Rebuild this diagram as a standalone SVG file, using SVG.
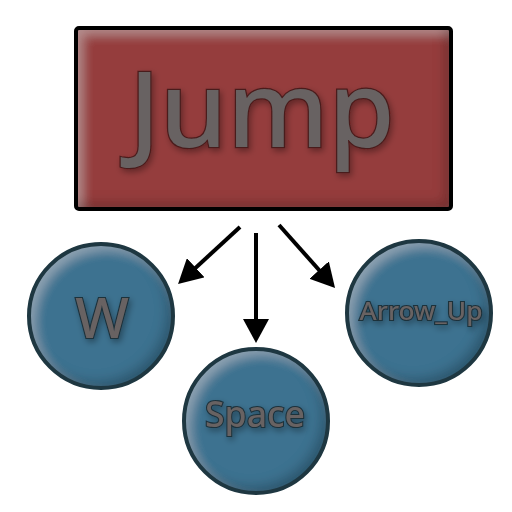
<svg xmlns="http://www.w3.org/2000/svg" width="512" height="512" viewBox="0 0 512 512">
  <defs>
    <style>
      .jump-fill { fill: #953d3d; }
      .jump-border { fill: none; stroke: #000; stroke-width: 4; }
      .key-fill { fill: #3e7290; }
      .key-border { fill: none; stroke: #1e3741; stroke-width: 4; }
      .label { font-family: "Noto Sans", "Open Sans", "DejaVu Sans", sans-serif; font-weight: 500; fill: #686262; text-anchor: middle; paint-order: stroke; }
      .label-jump { stroke: #4a1c1c; stroke-width: 2.5; font-size: 106px; }
      .label-key { stroke: #1c303a; stroke-width: 2.2; }
      .edge { stroke: #000; stroke-width: 4; fill: none; marker-end: url(#arrow); }
    </style>
    <marker id="arrow" viewBox="0 0 24 26" refX="14" refY="13" markerWidth="24" markerHeight="26" markerUnits="userSpaceOnUse" orient="auto">
      <path d="M0,0 L24,13 L0,26 z" fill="#000"/>
    </marker>
    <filter id="bevel" x="-20%" y="-20%" width="140%" height="140%">
      <feComponentTransfer in="SourceAlpha" result="inv">
        <feFuncA type="table" tableValues="1 0"/>
      </feComponentTransfer>
      <feOffset in="inv" dx="6" dy="6" result="invA"/>
      <feGaussianBlur in="invA" stdDeviation="6" result="blurA"/>
      <feFlood flood-color="#ffffff" flood-opacity="0.25"/>
      <feComposite in2="blurA" operator="in"/>
      <feComposite in2="SourceAlpha" operator="in" result="hl"/>
      <feOffset in="inv" dx="-6" dy="-6" result="invB"/>
      <feGaussianBlur in="invB" stdDeviation="6" result="blurB"/>
      <feFlood flood-color="#000000" flood-opacity="0.45"/>
      <feComposite in2="blurB" operator="in"/>
      <feComposite in2="SourceAlpha" operator="in" result="sh"/>
      <feMerge>
        <feMergeNode in="SourceGraphic"/>
        <feMergeNode in="hl"/>
        <feMergeNode in="sh"/>
      </feMerge>
    </filter>
    <filter id="tshadow" x="-20%" y="-20%" width="140%" height="140%">
      <feGaussianBlur in="SourceAlpha" stdDeviation="3" result="b"/>
      <feOffset in="b" dx="2" dy="3" result="o"/>
      <feFlood flood-color="#000" flood-opacity="0.35"/>
      <feComposite in2="o" operator="in" result="s"/>
      <feMerge>
        <feMergeNode in="s"/>
        <feMergeNode in="SourceGraphic"/>
      </feMerge>
    </filter>
  </defs>

  <g id="connectors">
    <line class="edge" x1="240" y1="227" x2="185.4" y2="277.2"/>
    <line class="edge" x1="256" y1="233" x2="256" y2="333"/>
    <line class="edge" x1="279" y1="225" x2="328.4" y2="280.5"/>
  </g>

  <g id="node-jump">
    <rect class="jump-fill" x="76" y="28" width="375" height="181" filter="url(#bevel)"/>
    <rect class="jump-border" x="76" y="28" width="375" height="181" rx="3"/>
    <text class="label label-jump" x="262" y="147" textLength="266" lengthAdjust="spacingAndGlyphs" filter="url(#tshadow)">Jump</text>
  </g>

  <g id="node-w">
    <circle class="key-fill" cx="101" cy="316" r="72" filter="url(#bevel)"/>
    <circle class="key-border" cx="101" cy="316" r="72"/>
    <text class="label label-key" x="102" y="338" font-size="57" filter="url(#tshadow)">W</text>
  </g>

  <g id="node-space">
    <circle class="key-fill" cx="256" cy="421" r="72" filter="url(#bevel)"/>
    <circle class="key-border" cx="256" cy="421" r="72"/>
    <text class="label label-key" x="255" y="427" font-size="37" textLength="100" lengthAdjust="spacingAndGlyphs" filter="url(#tshadow)">Space</text>
  </g>

  <g id="node-arrow-up">
    <circle class="key-fill" cx="419" cy="313" r="72" filter="url(#bevel)"/>
    <circle class="key-border" cx="419" cy="313" r="72"/>
    <text class="label label-key" x="421" y="320" font-size="26" textLength="123" lengthAdjust="spacingAndGlyphs" filter="url(#tshadow)">Arrow_Up</text>
  </g>
</svg>
